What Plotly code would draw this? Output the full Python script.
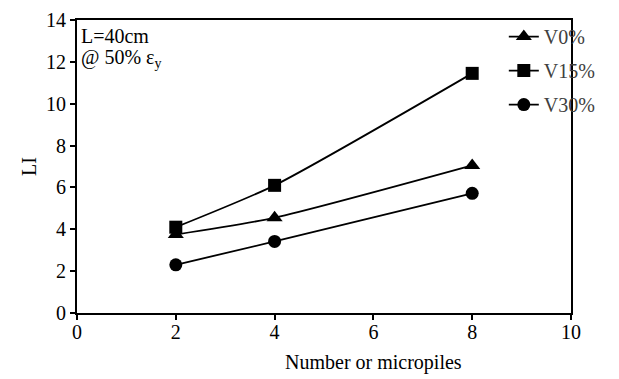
import plotly.graph_objects as go

x_vals = [2, 4, 8]
v0 = [3.75, 4.55, 7.05]
v15 = [4.1, 6.1, 11.45]
v30 = [2.3, 3.42, 5.72]
series_names = ["V0%", "V15%", "V30%"]
x_ticks = [0, 2, 4, 6, 8, 10]
y_ticks = [0, 2, 4, 6, 8, 10, 12, 14]

FONT = "Liberation Serif, Times New Roman, serif"
FS = 20

fig = go.Figure()
for name, vals, sym in zip(series_names, [v0, v15, v30], ["triangle-up", "square", "circle"]):
    fig.add_trace(go.Scatter(
        x=x_vals, y=vals, name=name, legendgroup=name,
        mode="lines+markers",
        line=dict(color="black", width=1.8, shape="spline", smoothing=0.6),
        marker=dict(symbol=sym, size=13 if sym != "triangle-up" else 14, color="black"),
    ))

fig.update_layout(
    width=619, height=379,
    margin=dict(l=69, r=56, t=1, b=74),
    paper_bgcolor="white", plot_bgcolor="white",
    font=dict(family=FONT, size=FS, color="black"),
    showlegend=True,
    legend=dict(x=0.864, y=1.01, xanchor="left", yanchor="top",
                bgcolor="rgba(0,0,0,0)", tracegroupgap=5,
                font=dict(family=FONT, size=FS, color="#404040")),
    xaxis=dict(range=[0, 10], tickvals=x_ticks, showgrid=False, zeroline=False,
               showline=True, linecolor="black", linewidth=2, mirror=True,
               ticks="outside", ticklen=5, tickwidth=1.5, tickcolor="black",
               ticklabelstandoff=-5, ticklabeloverflow="allow"),
    yaxis=dict(range=[0, 14], tickvals=y_ticks, showgrid=False, zeroline=False,
               showline=True, linecolor="black", linewidth=2, mirror=True,
               ticks="outside", ticklen=5, tickwidth=1.5, tickcolor="black",
               ticklabeloverflow="allow",
               title=dict(text="LI", standoff=4, font=dict(family=FONT, size=FS))),
)

fig.add_annotation(xref="paper", yref="paper", x=0.004, y=0.947, xanchor="left", yanchor="middle",
                   text="L=40cm", showarrow=False, font=dict(family=FONT, size=FS))
fig.add_annotation(xref="paper", yref="paper", x=0.004, y=0.868, xanchor="left", yanchor="middle",
                   text="@ 50% ε<sub>y</sub>", showarrow=False, font=dict(family=FONT, size=FS))
fig.add_annotation(xref="paper", yref="paper", x=0.6, y=-0.168, xanchor="center", yanchor="middle",
                   text="Number or micropiles", showarrow=False, font=dict(family=FONT, size=FS))

fig.write_html("out.html")
